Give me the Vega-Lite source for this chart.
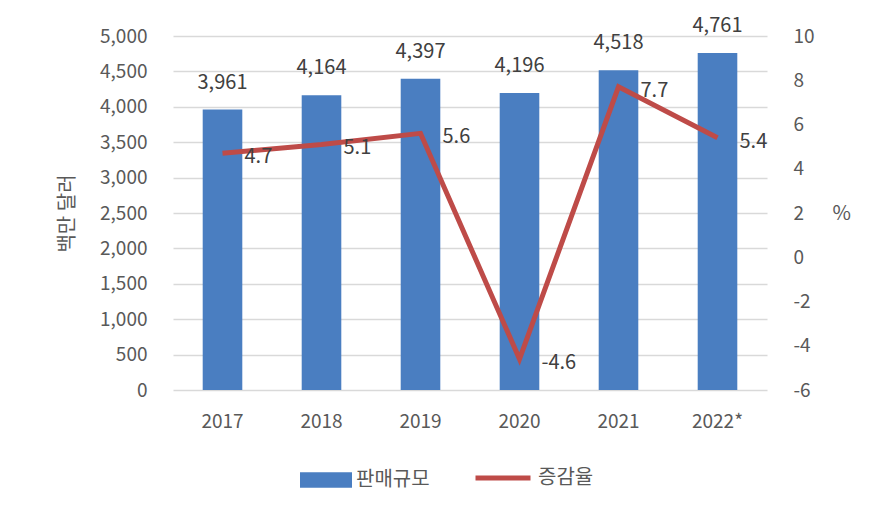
{
  "$schema": "https://vega.github.io/schema/vega-lite/v6.json",
  "width": 594,
  "height": 354,
  "autosize": {"type": "none"},
  "padding": {"left": 173, "top": 36, "right": 114, "bottom": 129},
  "background": "white",
  "config": {
    "locale": {"number": {"decimal": ".", "thousands": ",", "grouping": [3], "currency": ["$", ""], "minus": "-"}},
    "font": "Noto Sans CJK KR",
    "view": {"stroke": null},
    "axis": {
      "labelFont": "Noto Sans CJK KR",
      "titleFont": "Noto Sans CJK KR",
      "labelFontSize": 19,
      "titleFontSize": 20,
      "labelColor": "#595959",
      "titleColor": "#595959",
      "titleFontWeight": "normal",
      "ticks": false,
      "domain": false
    },
    "legend": {
      "labelFont": "Noto Sans CJK KR",
      "labelFontSize": 20,
      "labelColor": "#595959",
      "padding": 0,
      "title": null
    }
  },
  "data": {
    "values": [
      {"year": "2017", "sales": 3961, "rate": 4.7},
      {"year": "2018", "sales": 4164, "rate": 5.1},
      {"year": "2019", "sales": 4397, "rate": 5.6},
      {"year": "2020", "sales": 4196, "rate": -4.6},
      {"year": "2021", "sales": 4518, "rate": 7.7},
      {"year": "2022*", "sales": 4761, "rate": 5.4}
    ]
  },
  "encoding": {
    "x": {
      "field": "year",
      "type": "nominal",
      "sort": null,
      "scale": {"paddingInner": 0.6, "paddingOuter": 0.3},
      "axis": {"title": null, "labelAngle": 0, "labelPadding": 22, "labelBaseline": "top", "grid": false}
    }
  },
  "layer": [
    {
      "encoding": {
        "y": {
          "field": "sales",
          "type": "quantitative",
          "scale": {"domain": [0, 5000], "nice": false},
          "axis": {
            "title": "백만 달러",
            "values": [0, 500, 1000, 1500, 2000, 2500, 3000, 3500, 4000, 4500, 5000],
            "format": ",d",
            "grid": true,
            "gridColor": "#D9D9D9",
            "gridWidth": 1.5,
            "labelPadding": 26,
            "titlePadding": 22
          }
        }
      },
      "layer": [
        {
          "mark": {"type": "bar", "color": "#4A7EC1"},
          "encoding": {
            "color": {
              "datum": "판매규모",
              "scale": {"domain": ["판매규모"], "range": ["#4A7EC1"]},
              "legend": {
                "orient": "none",
                "legendX": 127,
                "legendY": 418,
                "symbolType": "M-1,-0.3L1,-0.3L1,0.3L-1,0.3Z",
                "symbolSize": 2704,
                "symbolStrokeWidth": 0,
                "labelOffset": 4
              }
            }
          }
        },
        {
          "mark": {"type": "text", "baseline": "middle", "dy": -27, "fontSize": 20, "color": "#404040", "font": "Noto Sans CJK KR"},
          "encoding": {"text": {"field": "sales", "type": "quantitative", "format": ",d"}}
        }
      ]
    },
    {
      "encoding": {
        "y": {
          "field": "rate",
          "type": "quantitative",
          "scale": {"domain": [-6, 10], "nice": false},
          "axis": {
            "orient": "right",
            "title": "%",
            "titleAngle": 0,
            "titleBaseline": "middle",
            "titleAlign": "left",
            "values": [-6, -4, -2, 0, 2, 4, 6, 8, 10],
            "grid": false,
            "labelPadding": 26,
            "labelAlign": "left",
            "titlePadding": 18
          }
        }
      },
      "layer": [
        {
          "mark": {"type": "line", "strokeWidth": 5, "strokeJoin": "miter"},
          "encoding": {
            "stroke": {
              "datum": "증감율",
              "scale": {"domain": ["증감율"], "range": ["#BE4B48"]},
              "legend": {
                "orient": "none",
                "legendX": 300,
                "legendY": 412,
                "symbolType": "stroke",
                "symbolSize": 3025,
                "symbolStrokeWidth": 5,
                "labelOffset": 5
              }
            }
          }
        },
        {
          "mark": {"type": "text", "align": "left", "baseline": "middle", "dx": 22, "dy": 4, "fontSize": 20, "color": "#404040", "font": "Noto Sans CJK KR"},
          "encoding": {"text": {"field": "rate", "type": "quantitative", "format": ".1f"}}
        }
      ]
    }
  ],
  "resolve": {"scale": {"y": "independent"}}
}
